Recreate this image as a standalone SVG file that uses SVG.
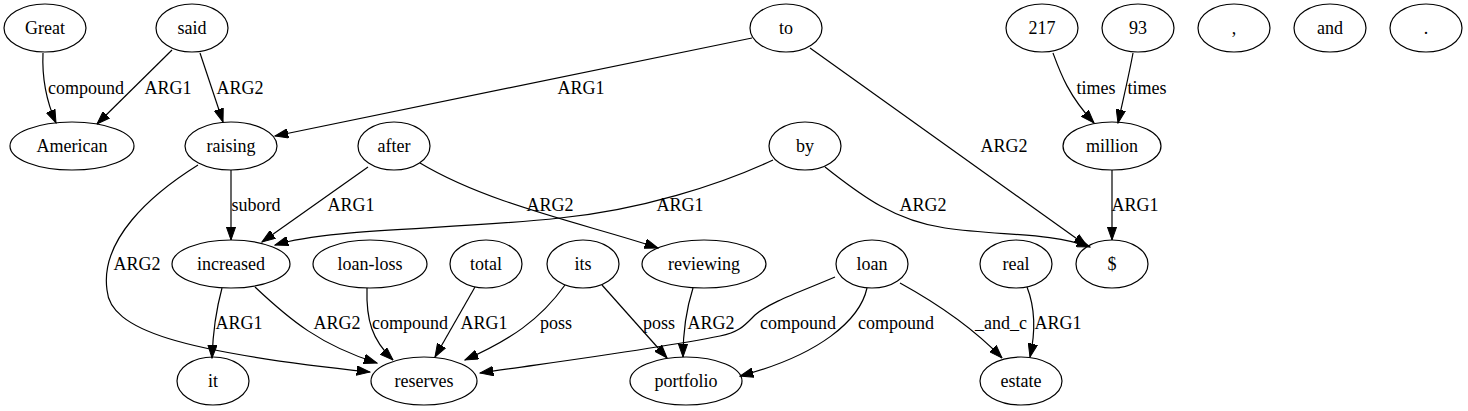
<svg xmlns="http://www.w3.org/2000/svg" width="1468" height="411" viewBox="0 0 1468 411">
<style>
.n ellipse{fill:none;stroke:#000;stroke-width:1.2}
text{font-family:"Liberation Serif","Times New Roman",serif;font-size:18px;text-anchor:middle;fill:#000}
.e path{fill:none;stroke:#000;stroke-width:1.2}
.a{marker-end:url(#arr)}
</style>
<defs>
<marker id="arr" viewBox="0 0 14 10" refX="13.3" refY="5" markerWidth="14" markerHeight="10" markerUnits="userSpaceOnUse" orient="auto">
<polygon points="0,0.3 13.3,5 0,9.7" fill="#000" stroke="#000" stroke-width="1"/>
</marker>
</defs>
<rect width="1468" height="411" fill="#fff"/>
<g id="edges" class="e">
<path class="a" d="M43,53 C42,75 45,98 56,123"/>
<path class="a" d="M172,50 L97,124"/>
<path class="a" d="M200,53 L223,122"/>
<path class="a" d="M752,38 L275,136"/>
<path class="a" d="M810,48 L1087,246"/>
<path class="a" d="M1053,53 C1060,72 1068,95 1094,123"/>
<path class="a" d="M1133,53 C1129,75 1123,100 1118,123"/>
<path class="a" d="M1112,170 L1112,240"/>
<path class="a" d="M231,170 L231,240"/>
<path class="a" d="M198,165 C150,195 100,240 107,290 C110,330 180,352 370,372"/>
<path class="a" d="M368,167 L262,242"/>
<path class="a" d="M420,163 C490,205 590,225 658,248"/>
<path class="a" d="M773,160 C720,185 640,210 560,218 C450,230 330,228 275,245"/>
<path class="a" d="M825,167 C855,190 890,220 945,228 C1000,236 1050,232 1090,247"/>
<path class="a" d="M222,288 C216,310 213,330 212,358"/>
<path class="a" d="M255,287 C290,320 320,345 377,363"/>
<path class="a" d="M367,288 C366,320 372,340 393,360"/>
<path class="a" d="M475,287 L435,357"/>
<path class="a" d="M565,285 C540,320 510,340 465,360"/>
<path class="a" d="M602,285 L667,358"/>
<path class="a" d="M693,288 C686,310 683,330 683,357"/>
<path class="a" d="M835,277 C800,292 770,302 755,315 C745,325 740,332 720,336 C650,350 540,364 480,373"/>
<path class="a" d="M867,288 C860,320 820,355 740,376"/>
<path class="a" d="M900,283 C940,305 975,330 1002,358"/>
<path class="a" d="M1027,287 C1034,305 1036,330 1030,357"/>
</g>
<g id="edge-labels">
<text x="86" y="94">compound</text>
<text x="168" y="94">ARG1</text>
<text x="240" y="94">ARG2</text>
<text x="581" y="94">ARG1</text>
<text x="1096" y="94">times</text>
<text x="1147" y="94">times</text>
<text x="1004" y="152">ARG2</text>
<text x="256" y="211">subord</text>
<text x="137" y="270">ARG2</text>
<text x="351" y="211">ARG1</text>
<text x="550" y="211">ARG2</text>
<text x="680" y="211">ARG1</text>
<text x="923" y="211">ARG2</text>
<text x="1135" y="211">ARG1</text>
<text x="239" y="329">ARG1</text>
<text x="337" y="329">ARG2</text>
<text x="410" y="329">compound</text>
<text x="484" y="329">ARG1</text>
<text x="556" y="329">poss</text>
<text x="659" y="329">poss</text>
<text x="711" y="329">ARG2</text>
<text x="798" y="329">compound</text>
<text x="896" y="329">compound</text>
<text x="1001" y="329">_and_c</text>
<text x="1058" y="329">ARG1</text>
</g>
<g id="n-Great" class="n"><ellipse cx="45" cy="28" rx="41" ry="24"/><text x="45" y="34">Great</text></g>
<g id="n-said" class="n"><ellipse cx="192" cy="28" rx="36" ry="24"/><text x="192" y="34">said</text></g>
<g id="n-to" class="n"><ellipse cx="786" cy="28" rx="36" ry="24"/><text x="786" y="34">to</text></g>
<g id="n-217" class="n"><ellipse cx="1042" cy="28" rx="36" ry="24"/><text x="1042" y="34">217</text></g>
<g id="n-93" class="n"><ellipse cx="1138" cy="28" rx="36" ry="24"/><text x="1138" y="34">93</text></g>
<g id="n-comma" class="n"><ellipse cx="1234" cy="28" rx="36" ry="24"/><text x="1234" y="34">,</text></g>
<g id="n-and" class="n"><ellipse cx="1330" cy="28" rx="36" ry="24"/><text x="1330" y="34">and</text></g>
<g id="n-period" class="n"><ellipse cx="1426" cy="28" rx="36" ry="24"/><text x="1426" y="34">.</text></g>
<g id="n-American" class="n"><ellipse cx="72" cy="146" rx="62" ry="24"/><text x="72" y="152">American</text></g>
<g id="n-raising" class="n"><ellipse cx="231" cy="146" rx="46" ry="24"/><text x="231" y="152">raising</text></g>
<g id="n-after" class="n"><ellipse cx="394" cy="146" rx="36" ry="24"/><text x="394" y="152">after</text></g>
<g id="n-by" class="n"><ellipse cx="805" cy="146" rx="36" ry="24"/><text x="805" y="152">by</text></g>
<g id="n-million" class="n"><ellipse cx="1112" cy="146" rx="49" ry="24"/><text x="1112" y="152">million</text></g>
<g id="n-increased" class="n"><ellipse cx="231" cy="264" rx="59" ry="24"/><text x="231" y="270">increased</text></g>
<g id="n-loan-loss" class="n"><ellipse cx="370" cy="264" rx="57" ry="24"/><text x="370" y="270">loan-loss</text></g>
<g id="n-total" class="n"><ellipse cx="486" cy="264" rx="36" ry="24"/><text x="486" y="270">total</text></g>
<g id="n-its" class="n"><ellipse cx="583" cy="264" rx="36" ry="24"/><text x="583" y="270">its</text></g>
<g id="n-reviewing" class="n"><ellipse cx="704" cy="264" rx="62" ry="24"/><text x="704" y="270">reviewing</text></g>
<g id="n-loan" class="n"><ellipse cx="872" cy="264" rx="36" ry="24"/><text x="872" y="270">loan</text></g>
<g id="n-real" class="n"><ellipse cx="1016" cy="264" rx="36" ry="24"/><text x="1016" y="270">real</text></g>
<g id="n-dollar" class="n"><ellipse cx="1112" cy="264" rx="36" ry="24"/><text x="1112" y="270">$</text></g>
<g id="n-it" class="n"><ellipse cx="213" cy="381" rx="36" ry="24"/><text x="213" y="387">it</text></g>
<g id="n-reserves" class="n"><ellipse cx="424" cy="381" rx="53" ry="24"/><text x="424" y="387">reserves</text></g>
<g id="n-portfolio" class="n"><ellipse cx="686" cy="381" rx="56" ry="24"/><text x="686" y="387">portfolio</text></g>
<g id="n-estate" class="n"><ellipse cx="1021" cy="381" rx="41" ry="24"/><text x="1021" y="387">estate</text></g>
</svg>
